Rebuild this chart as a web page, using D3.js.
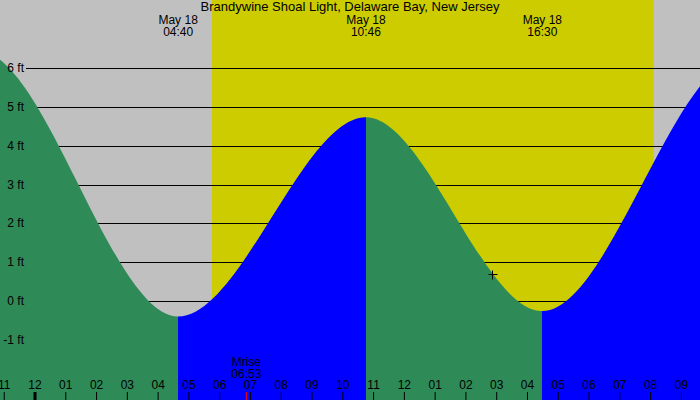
<!DOCTYPE html>
<html>
<head>
<meta charset="utf-8">
<script src="https://cdn.jsdelivr.net/npm/d3@7/dist/d3.min.js"></script>
<style>
  body { margin: 0; background: #fff; }
  svg text { font-family: "Liberation Sans", Arial, sans-serif; fill: #000; }
</style>
</head>
<body>
<div id="chart"></div>
<script>
// station + tide data (times are local, heights in ft)
const title = "Brandywine Shoal Light, Delaware Bay, New Jersey";
const tideTimes = ["2024-05-17T16:05", "2024-05-17T22:10", "2024-05-18T04:40", "2024-05-18T10:46",
                   "2024-05-18T16:30", "2024-05-18T23:00", "2024-05-19T05:20"];
const tideHeights = [-0.3, 6.45, -0.40, 4.74, -0.26, 6.3, -0.5];
const labeledTides = [2, 3, 4];
const sunTimes = ["2024-05-18T05:46", "2024-05-18T20:07"];
const moonTimes = ["2024-05-18T06:53"];
const moonLabels = ["Mrise"];
const nowTime = "2024-05-18T14:52";
const nowHeight = 0.70;
const heightTicks = [-1, 0, 1, 2, 3, 4, 5, 6];
const viewRange = ["2024-05-17T22:52:44", "2024-05-18T21:37:16"];

const width = 700, height = 400;
const parse = d3.timeParse("%Y-%m-%dT%H:%M");
const parseS = d3.timeParse("%Y-%m-%dT%H:%M:%S");

const tides = tideTimes.map((t, i) => ({ t: parse(t), h: tideHeights[i] }));

const x = d3.scaleTime()
    .domain(viewRange.map(parseS))
    .range([0, width]);
const y = d3.scaleLinear()
    .domain([-1, 6])
    .range([339.8, 68.3]);

const svg = d3.select("#chart").append("svg")
    .attr("width", width).attr("height", height);

// night / day background
svg.append("rect").attr("width", width).attr("height", height).attr("fill", "#c0c0c0");
svg.append("rect")
    .attr("x", x(parse(sunTimes[0])))
    .attr("width", x(parse(sunTimes[1])) - x(parse(sunTimes[0])))
    .attr("y", 0).attr("height", height)
    .attr("fill", "#cccc00");

// horizontal lines (under the water)
svg.append("g").selectAll("line").data(heightTicks).enter().append("line")
    .attr("x1", 26).attr("x2", width)
    .attr("y1", d => Math.round(y(d)) + 0.5).attr("y2", d => Math.round(y(d)) + 0.5)
    .attr("stroke", "#000").attr("stroke-width", 1);

// tide curve, one clipped piece per rising/falling stretch
const area = d3.area()
    .x(d => x(d.t)).y0(height).y1(d => y(d.h))
    .curve(d3.curveMonotoneX);

const defs = svg.append("defs");
for (let i = 0; i < tides.length - 1; i++) {
    const a = tides[i], b = tides[i + 1];
    const x0 = Math.round(x(a.t)), x1 = Math.round(x(b.t));
    defs.append("clipPath").attr("id", "seg" + i)
        .append("rect").attr("x", x0).attr("y", 0)
        .attr("width", x1 - x0).attr("height", height);
    svg.append("path")
        .datum(tides)
        .attr("d", area)
        .attr("clip-path", "url(#seg" + i + ")")
        .attr("fill", b.h < a.h ? "#2e8b57" : "#0000ff");
}

// ft labels on top
svg.append("g").selectAll("text").data(heightTicks).enter().append("text")
    .attr("x", 24).attr("y", d => y(d) + 4)
    .attr("text-anchor", "end").attr("font-size", 12)
    .text(d => d + " ft");

// hour axis along the bottom
const axis = svg.append("g")
    .attr("transform", "translate(0," + height + ")")
    .call(d3.axisTop(x)
        .ticks(d3.timeHour.every(1))
        .tickFormat(d3.timeFormat("%I"))
        .tickSize(8).tickPadding(3));
axis.select(".domain").remove();
axis.selectAll(".tick line").attr("stroke", "#000")
    .attr("stroke-width", d => d.getHours() === 0 ? 3 : 1);
axis.selectAll(".tick text")
    .attr("font-size", 12).attr("font-family", "Liberation Sans, Arial, sans-serif").attr("fill", "#000");

// moon events
moonTimes.forEach((t, i) => {
    const mx = x(parse(t));
    svg.append("line")
        .attr("x1", mx).attr("x2", mx).attr("y1", height - 8).attr("y2", height)
        .attr("stroke", "#ff0000").attr("stroke-width", 1);
    svg.append("text").attr("x", mx).attr("y", 366)
        .attr("text-anchor", "middle").attr("font-size", 12).text(moonLabels[i]);
    svg.append("text").attr("x", mx).attr("y", 378)
        .attr("text-anchor", "middle").attr("font-size", 12)
        .text(d3.timeFormat("%H:%M")(parse(t)));
});

// high/low labels at the top
const fmtDay = d3.timeFormat("%b %d"), fmtTime = d3.timeFormat("%H:%M");
labeledTides.forEach(i => {
    const d = tides[i];
    svg.append("text").attr("x", x(d.t)).attr("y", 24)
        .attr("text-anchor", "middle").attr("font-size", 12).text(fmtDay(d.t));
    svg.append("text").attr("x", x(d.t)).attr("y", 36)
        .attr("text-anchor", "middle").attr("font-size", 12).text(fmtTime(d.t));
});

svg.append("text").attr("x", width / 2).attr("y", 11)
    .attr("text-anchor", "middle").attr("font-size", 13).text(title);

// current time marker
const nx = Math.round(x(parse(nowTime))) + 0.5, ny = Math.round(y(nowHeight)) + 0.5;
svg.append("path")
    .attr("d", `M${nx - 4},${ny}H${nx + 5}M${nx},${ny - 4}V${ny + 5}`)
    .attr("stroke", "#000").attr("stroke-width", 1);
</script>
</body>
</html>
